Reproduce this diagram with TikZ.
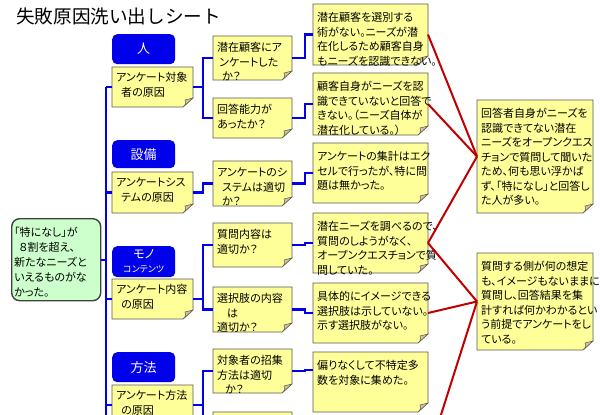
\documentclass[tikz,border=0pt]{standalone}
\usepackage{fontspec}
\setmainfont{Noto Sans CJK JP}[RawFeature=+palt]
\newfontfamily\jpfixed{Noto Sans CJK JP}
\definecolor{hblue}{RGB}{0,0,235}
\definecolor{stkY}{RGB}{255,255,153}
\definecolor{stkB}{RGB}{90,90,90}
\definecolor{foldc}{RGB}{215,195,140}
\definecolor{rootG}{RGB}{204,255,204}
\definecolor{redl}{RGB}{192,0,0}
\tikzset{
 stkbox/.style={rectangle, inner sep=0pt, outer sep=0pt, anchor=north west},
 stktext/.style={anchor=north west, inner sep=0pt, align=left, font=\fontsize{11}{14.5}\selectfont},
 hdr/.style={rectangle, rounded corners=5pt, fill=hblue, text=white, inner sep=0pt, anchor=north west, minimum width=63pt, font=\fontsize{13}{15}\selectfont},
 bluel/.style={draw=hblue, line width=2.4pt},
 redline/.style={draw=redl, line width=2pt},
}
\newcommand\stk[7][-7.5]{%
 \node[stkbox, minimum width=#5pt, minimum height=#6pt] (#2) at (#3,#4) {};
 \path[fill=stkY, draw=stkB, line width=0.6pt] (#2.north west) -- (#2.north east) -- ([yshift=9pt]#2.south east) -- ([xshift=-10pt]#2.south east) -- (#2.south west) -- cycle;
 \path[fill=foldc, draw=stkB, line width=0.5pt] ([xshift=-10pt]#2.south east) .. controls ([xshift=-7pt,yshift=3pt]#2.south east) .. ([xshift=-8pt,yshift=7pt]#2.south east) -- ([yshift=9pt]#2.south east) -- cycle;
 \node[stktext] at ([xshift=4pt,yshift=#1pt]#2.north west) {\strut #7};
}
\begin{document}
\begin{tikzpicture}[x=1pt,y=-1pt]
\useasboundingbox (0,0) rectangle (600,415);
\clip (0,0) rectangle (600,415);
\fill[white] (0,0) rectangle (600,415);

\node[anchor=west, inner sep=0pt, font=\jpfixed\fontsize{18.6}{20}\selectfont] (title) at (16,16.5) {失敗原因洗い出しシート};

% root
\node[rectangle, rounded corners=8pt, fill=rootG, draw=black!75, line width=1.4pt, minimum width=89pt, minimum height=82pt, anchor=north west, inner sep=0pt] (root) at (11,218) {};
\node[anchor=north west, inner sep=0pt, align=left, font=\fontsize{11}{15}\selectfont] (roottext) at ([xshift=3pt,yshift=-8pt]root.north west) {\strut「特になし」が\\\hspace*{5pt}８割を超え、\\新たなニーズと\\いえるものがな\\かった。};

% headers
\node[hdr, minimum height=30pt] (H1) at (112,34) {人};
\node[hdr, minimum height=28pt] (H2) at (112,140) {設備};
\node[hdr, minimum height=31pt, align=center] (H3) at (112,246) {{\fontsize{12}{12}\selectfont モノ}\\[-1pt]{\fontsize{9}{10}\selectfont コンテンツ}};
\node[hdr, minimum height=30pt] (H4) at (112,352) {方法};

% categories
\stk[-4.5]{C1}{112}{67}{81}{40}{アンケート対象\\\hspace*{5pt}者の原因}
\stk[-4.5]{C2}{112}{172}{81}{41}{アンケートシス\\\hspace*{5pt}テムの原因}
\stk[-4.5]{C3}{112}{279}{81}{40}{アンケート内容\\\hspace*{5pt}の原因}
\stk[-4.5]{C4}{112}{385}{81}{40}{アンケート方法\\\hspace*{5pt}の原因}

% questions
\stk[-5.5]{Q1}{213}{36}{79}{44}{潜在顧客にア\\\hspace*{2pt}ンケートした\\\hspace*{5pt}か？}
\stk[-5.5]{Q2}{213}{98}{79}{40}{回答能力が\\あったか？}
\stk[-5.5]{Q3}{213}{161}{79}{45}{アンケートのシ\\\hspace*{5pt}ステムは適切\\\hspace*{5pt}か？}
\stk[-5.5]{Q4}{213}{223}{79}{44}{質問内容は\\適切か？}
\stk[-5.5]{Q5}{213}{287}{79}{45}{選択肢の内容\\\hspace*{10pt}は\\適切か？}
\stk[-5.5]{Q6}{213}{349}{79}{44}{対象者の招集\\方法は適切\\\hspace*{8pt}か？}
\stk{Q7}{213}{412}{79}{44}{}

% answers
\stk{A1}{313}{4}{115}{61}{潜在顧客を選別する\\術がない。ニーズが潜\\在化しるため顧客自身\\もニーズを認識できない。}
\stk{A2}{313}{73}{115}{62}{顧客自身がニーズを認\\識できていないと回答で\\きない。（ニーズ自体が\\潜在化している。）}
\stk{A3}{313}{143}{115}{60}{アンケートの集計はエク\\セルで行ったが、特に問\\題は無かった。}
\stk{A4}{313}{213}{115}{60}{潜在ニーズを調べるので、\\質問のしようがなく、\\オープンクエスチョンで質\\問していた。}
\stk{A5}{313}{283}{115}{60}{具体的にイメージできる\\選択肢は示していない。\\示す選択肢がない。}
\stk{A6}{313}{352}{115}{60}{偏りなくして不特定多\\数を対象に集めた。}

% summaries
\stk{S1}{477}{100}{116}{113}{回答者自身がニーズを\\認識できてない潜在\\ニーズをオープンクエス\\チョンで質問して聞いた\\ため、何も思い浮かば\\ず、「特になし」と回答し\\た人が多い。}
\stk{S2}{477}{253}{116}{97}{質問する側が何の想定\\も、イメージもないままに\\質問し、回答結果を集\\計すれば何かわかるとい\\う前提でアンケートをし\\ている。}

% blue connectors
\coordinate (trunktop) at (106,87);
\coordinate (trunkbot) at (106,440);
\draw[bluel] (trunktop) -- (trunkbot);
\draw[bluel] (root.east) -- (root.east -| trunktop);
\foreach \c in {C1,C2,C3,C4} {\draw[bluel] (\c.west -| trunktop) -- (\c.west);}
\draw[bluel] (C1.east) -- ++(10,0) |- (Q1.west);
\draw[bluel] (C1.east) -- ++(10,0) |- (Q2.west);
\draw[bluel] (C2.east) -- ++(10,0) |- (Q3.west);
\draw[bluel] (C3.east) -- ++(10,0) |- (Q4.west);
\draw[bluel] (C3.east) -- ++(10,0) |- (Q5.west);
\draw[bluel] (C4.east) -- ++(10,0) |- (Q6.west);
\draw[bluel] (C4.east) -- ++(10,0) |- (Q7.west);
\draw[bluel] (Q1.east) -- ++(13,0) |- (A1.west);
\draw[bluel] (Q2.east) -- ++(13,0) |- (A2.west);
\draw[bluel] (Q3.east) -- ++(13,0) |- (A3.west);
\draw[bluel] (Q4.east) -- ++(13,0) |- (A4.west);
\draw[bluel] (Q5.east) -- ++(13,0) |- (A5.west);
\draw[bluel] (Q6.east) -- ++(13,0) |- ([yshift=12pt]A6.west);

% red connectors
\coordinate (offred) at (433,440);
\draw[redline] (A1.east) -- (S1.west);
\draw[redline] (A2.east) -- (S1.west);
\draw[redline] (A4.east) -- (S1.west);
\draw[redline] (A4.east) -- (S2.west);
\draw[redline] (A5.east) -- (S2.west);
\draw[redline] (offred) -- (S2.west);
\end{tikzpicture}
\end{document}
